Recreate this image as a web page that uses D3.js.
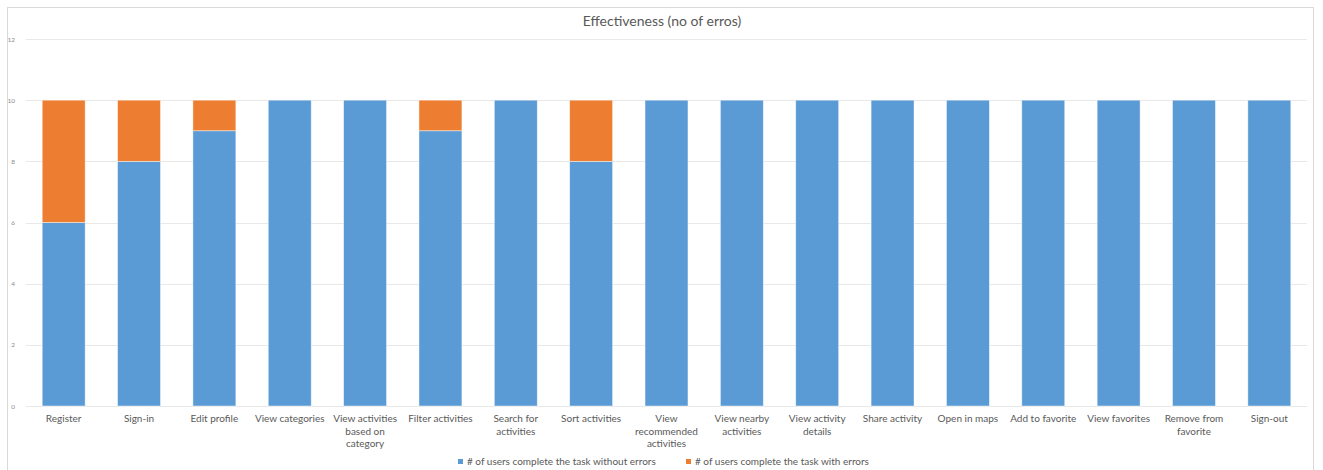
<!DOCTYPE html>
<html>
<head>
<meta charset="utf-8">
<script src="https://cdn.jsdelivr.net/npm/d3@7"></script>
<style>
  body { margin: 0; background: #fff; }
  svg { display: block; font-family: Lato, "Open Sans", sans-serif; }
</style>
</head>
<body>
<svg id="canvas" width="1323" height="470"></svg>
<script>
'use strict';

var categories = [
  'Register', 'Sign-in', 'Edit profile', 'View categories',
  'View activities based on category', 'Filter activities',
  'Search for activities', 'Sort activities', 'View recommended activities',
  'View nearby activities', 'View activity details', 'Share activity',
  'Open in maps', 'Add to favorite', 'View favorites', 'Remove from favorite',
  'Sign-out'
];

// wrapped tick labels, as Excel shows them
var tickLabels = [
  ['Register'], ['Sign-in'], ['Edit profile'], ['View categories'],
  ['View activities', 'based on', 'category'], ['Filter activities'],
  ['Search for', 'activities'], ['Sort activities'],
  ['View', 'recommended', 'activities'], ['View nearby', 'activities'],
  ['View activity', 'details'], ['Share activity'], ['Open in maps'],
  ['Add to favorite'], ['View favorites'], ['Remove from', 'favorite'],
  ['Sign-out']
];

var withoutErrors = [6, 8, 9, 10, 10, 9, 10, 8, 10, 10, 10, 10, 10, 10, 10, 10, 10];
var withErrors    = [4, 2, 1, 0, 0, 1, 0, 2, 0, 0, 0, 0, 0, 0, 0, 0, 0];

var seriesNames = [
  '# of users complete the task without errors',
  '# of users complete the task with errors'
];
var seriesColors = ['#5B9BD5', '#ED7D31'];
var yTicks = [0, 2, 4, 6, 8, 10, 12];

function RenderChart() {
  var svg = d3.select('#canvas');
  var margin = {left: 26, right: 16, top: 39, bottom: 64};
  var width = 1323, height = 470;

  // chart frame
  svg.append('rect')
      .attr('x', 7.5).attr('y', 7.5)
      .attr('width', 1306).attr('height', 470)
      .attr('fill', '#fff')
      .attr('stroke', '#d9d9d9');

  svg.append('text')
      .text('Effectiveness (no of erros)')
      .attr('x', 662).attr('y', 26)
      .attr('text-anchor', 'middle')
      .attr('font-size', 14)
      .attr('fill', '#595959');

  var x = d3.scaleBand()
      .domain(categories)
      .range([margin.left, width - margin.right])
      .paddingInner(0.43)
      .paddingOuter(0.215);

  var y = d3.scaleLinear()
      .domain([0, 12])
      .range([height - margin.bottom, margin.top]);

  // gridlines
  svg.append('g').selectAll('line')
      .data(yTicks)
    .enter().append('line')
      .attr('x1', margin.left).attr('x2', width - margin.right)
      .attr('y1', function(d) { return Math.round(y(d)) + 0.5; })
      .attr('y2', function(d) { return Math.round(y(d)) + 0.5; })
      .attr('stroke', '#e8e8e8');

  var yAxis = svg.append('g')
      .attr('transform', 'translate(' + (margin.left - 8) + ',0)')
      .call(d3.axisLeft(y).tickValues(yTicks).tickSize(0));
  yAxis.select('.domain').remove();
  yAxis.selectAll('text')
      .attr('font-size', 6.5)
      .attr('fill', '#8c8c8c')
      .attr('font-family', 'Lato, sans-serif');

  var stacked = d3.stack().keys([0, 1])(categories.map(function(c, i) {
    return {0: withoutErrors[i], 1: withErrors[i], name: c};
  }));

  svg.append('g').selectAll('g')
      .data(stacked)
    .enter().append('g')
      .attr('fill', function(d, i) { return seriesColors[i]; })
    .selectAll('rect')
      .data(function(d) { return d; })
    .enter().append('rect')
      .filter(function(d) { return d[1] > d[0]; })
      .attr('x', function(d) { return x(d.data.name); })
      .attr('width', x.bandwidth())
      .attr('y', function(d) { return y(d[1]); })
      .attr('height', function(d) { return y(d[0]) - y(d[1]); })
      .attr('stroke', 'rgba(255,255,255,0.6)')
      .attr('stroke-width', 0.75);

  // category labels
  var labels = svg.append('g').selectAll('text')
      .data(categories)
    .enter().append('text')
      .attr('x', function(d) { return x(d) + x.bandwidth() / 2; })
      .attr('y', y(0) + 16)
      .attr('text-anchor', 'middle')
      .attr('font-size', 10)
      .attr('fill', '#595959');
  labels.selectAll('tspan')
      .data(function(d, i) { return tickLabels[i]; })
    .enter().append('tspan')
      .attr('x', function() { return d3.select(this.parentNode).attr('x'); })
      .attr('dy', function(d, i) { return i === 0 ? 0 : 12.5; })
      .text(function(d) { return d; });

  // legend
  var legendX = [458, 686];
  var legend = svg.append('g').selectAll('g')
      .data(seriesNames)
    .enter().append('g')
      .attr('transform', function(d, i) {
        return 'translate(' + legendX[i] + ',459)';
      });
  legend.append('rect')
      .attr('width', 5).attr('height', 5)
      .attr('fill', function(d, i) { return seriesColors[i]; });
  legend.append('text')
      .text(function(d) { return d; })
      .attr('x', 9).attr('y', 6)
      .attr('font-size', 10)
      .attr('fill', '#595959');
}

RenderChart();
</script>
</body>
</html>
